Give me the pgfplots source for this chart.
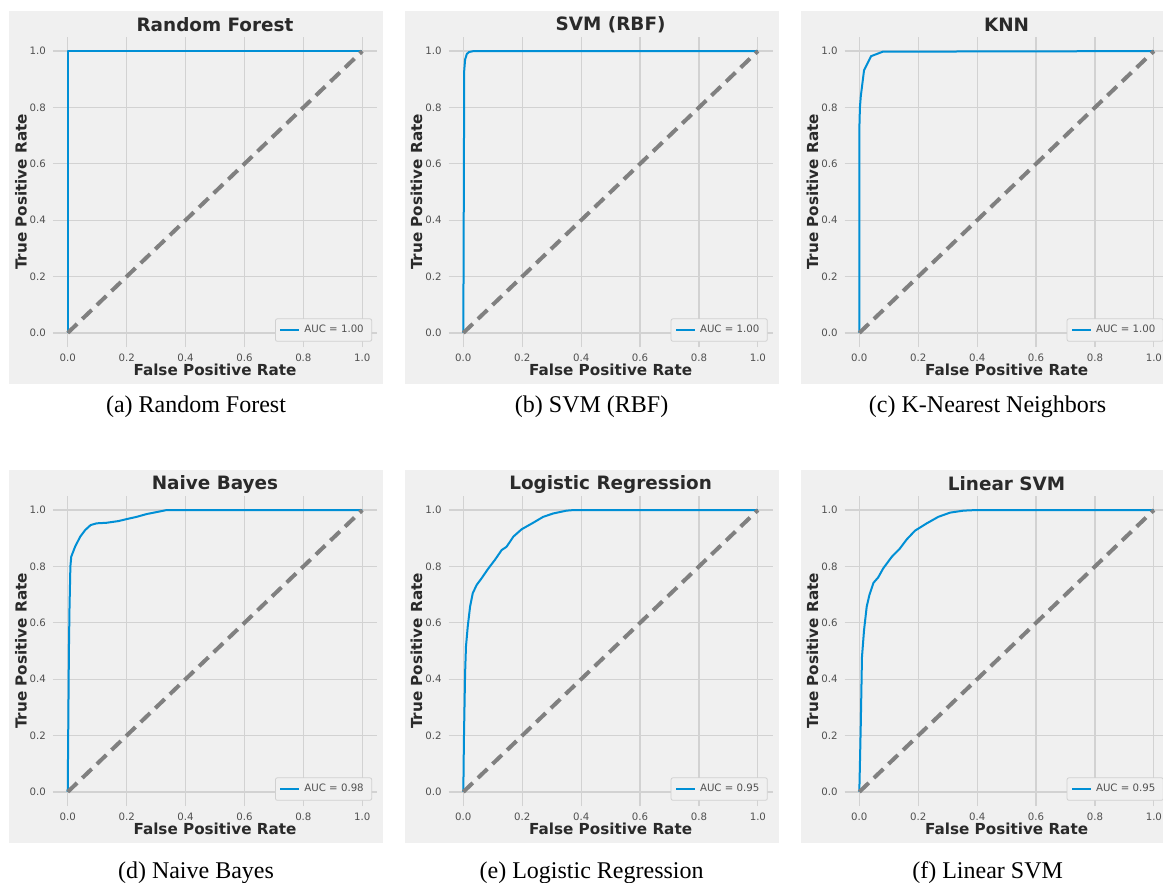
\documentclass[border=0pt]{standalone}
\usepackage{fontspec}
\setmainfont{Liberation Serif}
\setsansfont{DejaVu Sans}
\usepackage{pgfplots}
\pgfplotsset{compat=1.18}

\definecolor{bgc}{HTML}{F0F0F0}
\definecolor{gridc}{HTML}{D2D2D2}
\definecolor{rocblue}{HTML}{008FD5}
\definecolor{diagc}{HTML}{808080}
\definecolor{legc}{HTML}{D0D0D0}
\definecolor{tickc}{HTML}{505050}
\definecolor{labc}{HTML}{2A2A2A}

\pgfplotsset{
  roc/.style={
    scale only axis, width=162pt, height=155pt,
    xmin=-0.05, xmax=1.05, ymin=-0.05, ymax=1.05,
    xtick={0,0.2,0.4,0.6,0.8,1}, ytick={0,0.2,0.4,0.6,0.8,1},
    /pgf/number format/assume math mode=true,
    xticklabel={\pgfmathprintnumber[fixed,fixed zerofill,precision=1]{\tick}},
    yticklabel={\pgfmathprintnumber[fixed,fixed zerofill,precision=1]{\tick}},
    axis line style={draw=none}, major tick length=0pt,
    grid=major, grid style={color=gridc, line width=0.6pt},
    axis background/.style={fill=bgc},
    tick label style={font=\fontsize{5.1}{6}\selectfont\sffamily, text=tickc},
    xlabel={False Positive Rate}, ylabel={True Positive Rate},
    label style={font=\fontsize{7.6}{8}\selectfont\sffamily\bfseries, text=labc},
    xlabel style={at={(axis description cs:0.5,-0.074)}, anchor=center},
    ylabel style={at={(axis description cs:-0.099,0.5)}, anchor=center},
    title style={at={(axis description cs:0.5,1.0)}, anchor=center,
                 font=\fontsize{9.2}{10}\selectfont\sffamily\bfseries, text=labc},
    legend style={at={(axis description cs:0.985,0.017)}, anchor=south east,
                  draw=legc, fill=bgc, rounded corners=1pt,
                  font=\fontsize{5.1}{6}\selectfont\sffamily, text=tickc,
                  inner xsep=2pt, inner ysep=1pt, cells={anchor=west}},
    legend image code/.code={\draw[#1] (0pt,0pt) -- (9.5pt,0pt);},
  },
  rocline/.style={rocblue, line width=1pt, line join=round},
  diag/.style={diagc, line width=2pt, dash pattern=on 6.5pt off 3.6pt},
}

% #1 axis left (px), #2 axis top (px), #3 title, #4 coordinates, #5 AUC,
% #6 caption, #7 right edge of grey panel (px), #8 caption baseline (px)
\newcommand\rocpanel[8]{%
  \fill[bgc] (#1*0.5pt-22pt,-#2*0.5pt+13pt) rectangle (#7*0.5pt,-#2*0.5pt-173.5pt);
  \begin{axis}[roc, at={(#1*0.5pt,-#2*0.5pt)}, anchor=north west, title={#3}]
    \addplot[rocline] coordinates {#4};
    \addlegendentry{AUC = #5}
    \addplot[diag, forget plot] coordinates {(0,0) (1,1)};
  \end{axis}
  \node[font=\fontsize{12}{13}\selectfont, anchor=base] at (#1*0.5pt+71.5pt,-#8*0.5pt) {#6};
}

\begin{document}
\begin{tikzpicture}
\useasboundingbox (0,0) rectangle (581.5pt,-441.5pt);

\rocpanel{53}{37}{Random Forest}{(0,0) (0,1) (1,1)}{1.00}{(a) Random Forest}{383}{412}

\rocpanel{448.6}{37}{SVM (RBF)}{(0,0) (0.001,0.3) (0.002,0.6) (0.003,0.93) (0.006,0.97)
  (0.012,0.99) (0.02,0.997) (0.035,1) (1,1)}{1.00}{(b) SVM (RBF)}{778.6}{412}

\rocpanel{844.6}{37}{KNN}{(0,0) (0,0.72) (0.002,0.8) (0.005,0.84) (0.016,0.932)
  (0.04,0.982) (0.08,0.998) (1,1)}{1.00}{(c) K-Nearest Neighbors}{1163}{412}

\rocpanel{53}{496}{Naive Bayes}{(0,0) (0.002,0.25) (0.004,0.5) (0.006,0.65) (0.009,0.8)
  (0.012,0.835) (0.025,0.87) (0.042,0.905) (0.059,0.929) (0.078,0.947) (0.098,0.953)
  (0.132,0.955) (0.172,0.961) (0.2,0.968) (0.234,0.976) (0.268,0.986) (0.302,0.993)
  (0.335,1) (1,1)}{0.98}{(d) Naive Bayes}{383}{878}

\rocpanel{448.6}{496}{Logistic Regression}{(0,0) (0.002,0.185) (0.006,0.42) (0.009,0.516)
  (0.015,0.587) (0.023,0.658) (0.032,0.705) (0.045,0.734) (0.062,0.758) (0.085,0.793)
  (0.107,0.823) (0.13,0.858) (0.147,0.87) (0.17,0.906) (0.198,0.932) (0.237,0.955)
  (0.271,0.976) (0.305,0.988) (0.35,0.998) (0.373,1) (1,1)}{0.95}{(e) Logistic Regression}{778.6}{878}

\rocpanel{844.6}{496}{Linear SVM}{(0,0) (0.005,0.243) (0.009,0.479) (0.016,0.574)
  (0.025,0.657) (0.034,0.698) (0.048,0.742) (0.064,0.761) (0.081,0.793) (0.11,0.834)
  (0.138,0.864) (0.161,0.896) (0.189,0.927) (0.229,0.953) (0.268,0.976) (0.308,0.991)
  (0.353,0.998) (0.393,1) (1,1)}{0.95}{(f) Linear SVM}{1163}{878}
\end{tikzpicture}
\end{document}
